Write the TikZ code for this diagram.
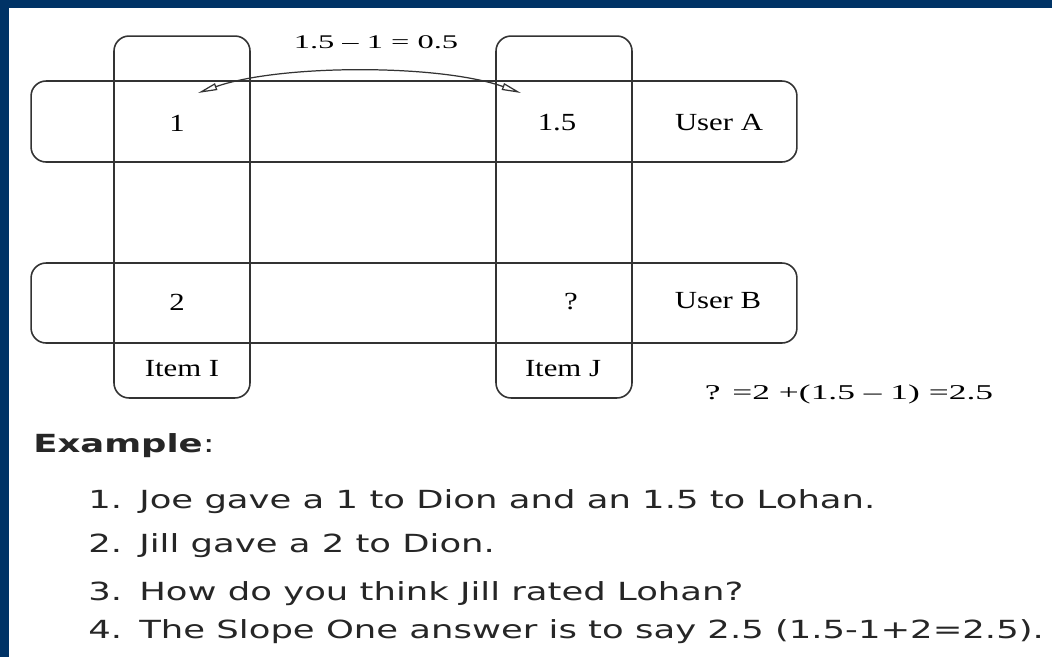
\documentclass[tikz,border=0pt]{standalone}
\usepackage{fontspec}
\usepackage{xcolor}
\usepackage{tikz}
\usetikzlibrary{arrows.meta}

\newfontfamily\cellfont{Liberation Serif}[FakeStretch=1.25]
\newfontfamily\notefont{Liberation Serif}[FakeStretch=1.68]
\newfontfamily\listfont{DejaVu Sans}[FakeStretch=1.42]
\definecolor{frameblue}{RGB}{0,51,102}

\tikzset{
  band/.style={draw=black!80, line width=0.9pt, rounded corners=3mm, inner sep=0pt},
  cell/.style={font=\cellfont\fontsize{14}{16}\selectfont, inner sep=0pt},
  note/.style={font=\notefont\fontsize{11}{13}\selectfont, inner sep=0pt},
  line/.style={font=\listfont\fontsize{14.2}{17}\selectfont, inner sep=0pt, anchor=base west, black!85},
  diff/.style={{Triangle[open,length=11pt,width=4pt]}-{Triangle[open,length=11pt,width=4pt]}, line width=0.7pt, black!80}
}

\begin{document}
\begin{tikzpicture}[x=0.02cm, y=-0.02cm]
    \useasboundingbox (0,0) rectangle (1052,657);
    \fill[white] (0,0) rectangle (1052,657);
    \fill[frameblue] (0,0) rectangle (1052,8);
    \fill[frameblue] (0,0) rectangle (9,657);

    % users (rows) and items (columns)
    \node[band, minimum width=15.32cm, minimum height=1.62cm] (userA) at (414,121.5) {};
    \node[band, minimum width=15.32cm, minimum height=1.60cm] (userB) at (414,303) {};
    \node[band, minimum width=2.72cm, minimum height=7.24cm] (itemI) at (182,217) {};
    \node[band, minimum width=2.72cm, minimum height=7.24cm] (itemJ) at (564,217) {};

    % ratings
    \node[cell] (rA1) at (177,123) {1};
    \node[cell] (rA2) at (557,123) {1.5};
    \node[cell] (rB1) at (177,302) {2};
    \node[cell] (rB2) at (571,302) {?};
    \node[cell] (nameA) at (719,122) {User A};
    \node[cell] (nameB) at (718,301) {User B};
    \node[cell] (nameI) at (182,369) {Item I};
    \node[cell] (nameJ) at (563,369) {Item J};

    % difference between the two items
    \coordinate (tipL) at (198,93);
    \coordinate (tipR) at (521,93);
    \draw[diff] (tipR) .. controls (440,64) and (280,64) .. (tipL);
    \node[note] (delta) at (376,42) {1.5 – 1 = 0.5};
    \node[note, font=\notefont\fontsize{12}{14}\selectfont, anchor=base] (guess) at (849,399) {? =2 +(1.5 – 1) =2.5};

    % worked example
    \node[line] (head) at (33,452) {\textbf{Example}:};
    \node[line] (n1) at (88,508) {1.};
    \node[line] (t1) at (139,508) {Joe gave a 1 to Dion and an 1.5 to Lohan.};
    \node[line] (n2) at (88,552) {2.};
    \node[line] (t2) at (139,552) {Jill gave a 2 to Dion.};
    \node[line] (n3) at (88,600) {3.};
    \node[line] (t3) at (139,600) {How do you think Jill rated Lohan?};
    \node[line] (n4) at (88,638) {4.};
    \node[line] (t4) at (139,638) {The Slope One answer is to say 2.5 (1.5-1+2=2.5).};
\end{tikzpicture}
\end{document}
